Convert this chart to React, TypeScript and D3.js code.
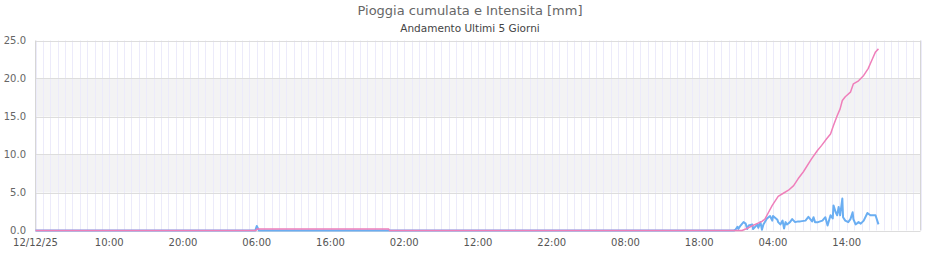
import React from "react";
import * as d3 from "d3";

const tickHours = [0, 10, 20, 30, 40, 50, 60, 70, 80, 90, 100, 110];
const tickLabels = ["12/12/25", "10:00", "20:00", "06:00", "16:00", "02:00", "12:00", "22:00", "08:00", "18:00", "04:00", "14:00"];
const yTicks = [0, 5, 10, 15, 20, 25];

const intensityHours = [0, 29.8, 30.0, 30.3, 94.7, 94.9, 95.2, 95.3, 95.6, 96.0, 96.3, 96.5, 96.7, 97.2, 97.3, 97.9, 98.0, 98.3, 98.5, 98.7, 99.2, 99.6, 99.9, 100.0, 100.6, 100.7, 101.0, 101.3, 101.5, 101.7, 101.9, 102.3, 102.6, 103.0, 103.4, 103.7, 104.4, 104.8, 105.3, 105.5, 105.7, 106.1, 106.7, 107.1, 107.4, 107.8, 108.1, 108.2, 108.5, 108.7, 108.9, 109.1, 109.4, 109.5, 109.8, 110.2, 110.5, 110.8, 110.9, 111.2, 111.6, 111.9, 112.3, 112.8, 113.2, 113.9, 114.3];
const intensityValues = [0, 0, 0.6, 0, 0, 0.1, 0.5, 0.2, 0.65, 1.1, 0.9, 0.2, 0.65, 0.8, 0.2, 0.8, 0.35, 1.1, 0.1, 0.8, 1.6, 1.9, 1.3, 1.9, 1.4, 1.1, 0.8, 1.3, 0.25, 1.1, 0.8, 1.1, 1.5, 1.1, 1.2, 1.2, 1.3, 1.8, 1.2, 1.75, 1.1, 1.1, 1.3, 1.75, 0.66, 2.0, 1.6, 3.3, 2.4, 2.0, 3.1, 2.0, 4.2, 1.75, 1.3, 1.1, 1.5, 2.4, 1.5, 0.8, 1.1, 0.9, 1.3, 2.3, 2.0, 2.0, 0.8];

const cumulHours = [0, 29.9, 30.0, 47.9, 48.0, 95.8, 96.3, 97.6, 98.5, 98.9, 99.4, 99.9, 100.3, 100.7, 101.4, 102.1, 102.8, 103.4, 104.1, 105.2, 106.0, 106.6, 107.3, 107.8, 108.2, 108.7, 109.1, 109.4, 109.8, 110.5, 110.9, 111.6, 112.3, 112.9, 113.4, 113.9, 114.3];
const cumulValues = [0, 0, 0.2, 0.2, 0, 0, 0.2, 0.8, 1.2, 1.5, 2.4, 3.3, 3.9, 4.5, 4.9, 5.3, 5.9, 6.8, 7.7, 9.4, 10.5, 11.2, 12.1, 12.7, 13.8, 15.1, 16.0, 17.1, 17.6, 18.2, 19.3, 19.7, 20.4, 21.3, 22.4, 23.5, 23.9];

const W = 940, H = 260;
const L = 35.5, R = 920.5, T = 40.5, B = 230.5;
const FONT = "'DejaVu Sans', Verdana, sans-serif";

export default function App() {
  const x = d3.scaleLinear().domain([0, 120]).range([L, R]);
  const y = d3.scaleLinear().domain([0, 25]).range([B, T]);
  const hours = d3.range(0, 121, 1);
  const intData = intensityHours.map((h, i) => [h, intensityValues[i]] as [number, number]);
  const cumData = cumulHours.map((h, i) => [h, cumulValues[i]] as [number, number]);
  const line = d3.line<[number, number]>().x(d => x(d[0])).y(d => y(d[1]));
  const bands = [[5, 10], [15, 20]];
  return (
    <svg width={W} height={H} style={{ position: "absolute", left: 0, top: 0, background: "#fff" }} fontFamily={FONT}>
      <text x={470} y={15} textAnchor="middle" fontSize={13} fill="#666">Pioggia cumulata e Intensita [mm]</text>
      <text x={470} y={32} textAnchor="middle" fontSize={10.5} fill="#444">Andamento Ultimi 5 Giorni</text>
      {bands.map(([a, b], i) => (
        <rect key={i} x={L} y={y(b)} width={R - L} height={y(a) - y(b)} fill="#f3f3f4" />
      ))}
      {hours.map(h => (
        <line key={h} x1={Math.round(x(h)) + 0.5} x2={Math.round(x(h)) + 0.5} y1={T} y2={B} stroke="#ecebfa" strokeWidth={1} />
      ))}
      {yTicks.map(v => (
        <line key={v} x1={L} x2={R} y1={Math.round(y(v)) + 0.5} y2={Math.round(y(v)) + 0.5} stroke="#dddddd" strokeWidth={1} />
      ))}
      <line x1={L} x2={L} y1={T} y2={B} stroke="#d6d6d6" />
      <line x1={R} x2={R} y1={T} y2={B} stroke="#d6d6d6" />
      {yTicks.map(v => (
        <text key={v} x={26} y={y(v) + 3.5} textAnchor="end" fontSize={10} fill="#666">{v.toFixed(1)}</text>
      ))}
      {tickHours.map((h, i) => (
        <text key={h} x={x(h)} y={246} textAnchor="middle" fontSize={10} fill="#555">{tickLabels[i]}</text>
      ))}
      <path d={line(intData) || ""} fill="none" stroke="#6aaef2" strokeWidth={2} strokeLinejoin="round" />
      <path d={line(cumData) || ""} fill="none" stroke="#ef7fba" strokeWidth={1.5} strokeLinejoin="round" />
    </svg>
  );
}
